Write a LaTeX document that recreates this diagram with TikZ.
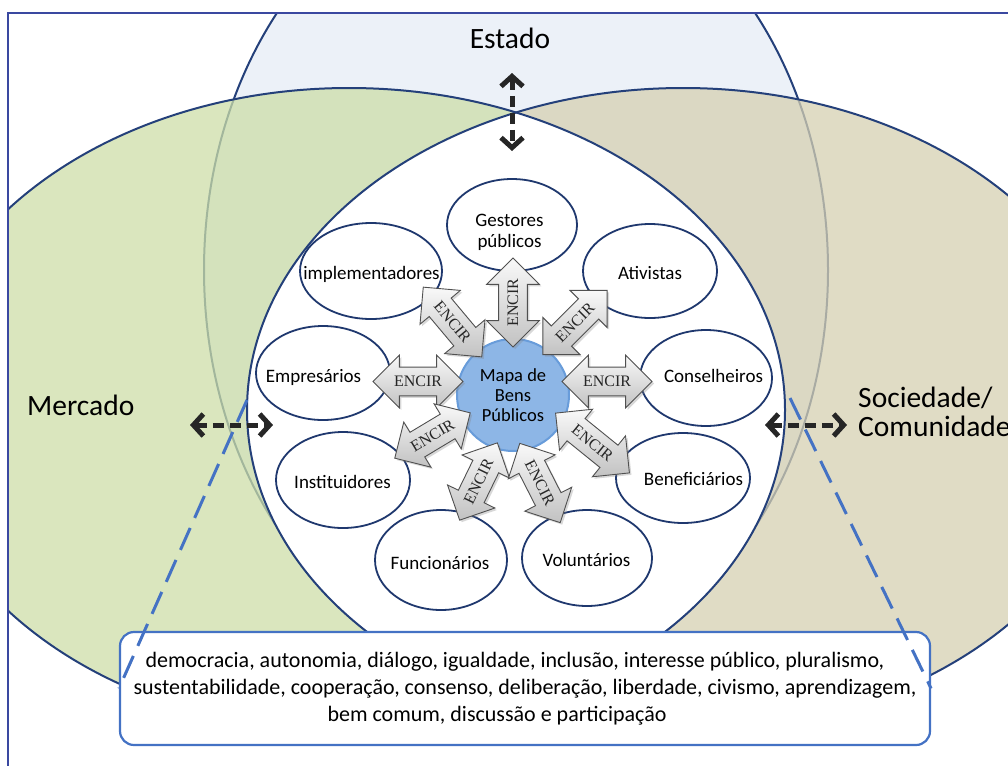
\documentclass[tikz,border=0pt]{standalone}
\usepackage{fontspec}
\setmainfont{Carlito}
\newfontfamily\encfont{Liberation Serif}
\usetikzlibrary{shapes.geometric,shapes.arrows,shadows,arrows.meta,calc}

\definecolor{estadofill}{RGB}{236,241,248}
\definecolor{mercfill}{RGB}{205,222,168}
\definecolor{socfill}{RGB}{214,208,178}
\definecolor{outl}{RGB}{36,64,122}
\definecolor{ellb}{RGB}{31,56,110}
\definecolor{mapafill}{RGB}{141,182,230}
\definecolor{mapadraw}{RGB}{104,156,218}
\definecolor{boxblue}{RGB}{68,114,196}
\definecolor{framec}{RGB}{58,72,160}
\definecolor{arrdark}{RGB}{38,38,38}
\definecolor{encdraw}{RGB}{80,80,80}

\tikzset{
  actor/.style={ellipse, draw=ellb, line width=1.8pt, fill=white, inner sep=0pt},
  actortxt/.style={inner sep=0pt, align=center, font=\fontsize{19}{21}\selectfont},
  encir/.style={double arrow, double arrow head extend=12pt, double arrow tip angle=90,
    draw=encdraw, line width=0.9pt, top color=gray!5, bottom color=gray!48,
    inner xsep=3pt, inner ysep=8.5pt, text=black!85,
    font=\encfont\fontsize{16}{16}\selectfont,
    drop shadow={opacity=0.3, shadow xshift=2pt, shadow yshift=-2pt}},
  bigtxt/.style={font=\fontsize{29.5}{30}\selectfont, inner sep=0pt},
  dasharr/.style={arrdark, line width=5pt, dash pattern=on 11pt off 6pt,
    {Straight Barb[length=10pt,width=22pt]}-{Straight Barb[length=10pt,width=22pt]}},
  bluedash/.style={boxblue, line width=3pt, dash pattern=on 24pt off 11pt},
  venn/.style={outl, line width=2pt}
}

\begin{document}
\begin{tikzpicture}[x=1pt,y=-1pt]
\useasboundingbox (0,0) rectangle (1008,766);

% ---- Venn background ----
\begin{scope}
  \clip (8,13) rectangle (1008,766);
  \filldraw[venn, fill=estadofill] (516,270) ellipse [x radius=312pt, y radius=400pt];
  \fill[mercfill, fill opacity=0.75] (349,410) ellipse [x radius=436pt, y radius=322pt];
  \fill[socfill, fill opacity=0.75] (683,410) ellipse [x radius=436pt, y radius=322pt];
  \begin{scope}
    \clip (349,410) ellipse [x radius=436pt, y radius=322pt];
    \fill[white] (683,410) ellipse [x radius=436pt, y radius=322pt];
  \end{scope}
  \draw[venn] (349,410) ellipse [x radius=436pt, y radius=322pt];
  \draw[venn] (683,410) ellipse [x radius=436pt, y radius=322pt];
\end{scope}

% ---- labels ----
\node[bigtxt] (estado) at (510,38) {Estado};
\node[bigtxt, anchor=west] (mercado) at (27,405) {Mercado};
\node[bigtxt, anchor=west, align=left, font=\fontsize{29.5}{29}\selectfont] (sociedade) at (858,412) {Sociedade/\\Comunidade};

% ---- actors ----
\node[actor, minimum width=130pt, minimum height=92pt]  (gest) at (512,225) {};
\node[actor, minimum width=142pt, minimum height=96pt]  (impl) at (371,271) {};
\node[actor, minimum width=134pt, minimum height=94pt]  (ativ) at (650,271) {};
\node[actor, minimum width=134pt, minimum height=94pt]  (empr) at (323,373) {};
\node[actor, minimum width=132pt, minimum height=96pt]  (cons) at (706,378) {};
\node[actor, minimum width=134pt, minimum height=96pt]  (inst) at (343,480) {};
\node[actor, minimum width=134pt, minimum height=90pt]  (bene) at (683,478) {};
\node[actor, minimum width=132pt, minimum height=100pt] (func) at (441,560) {};
\node[actor, minimum width=130pt, minimum height=96pt]  (volu) at (587,558) {};

\node[actortxt] (gest-t) at ($(gest)+(-2.5,7)$) {Gestores\\públicos};
\node[actortxt] (impl-t) at ($(impl)+(0.5,3)$) {implementadores};
\node[actortxt] (ativ-t) at ($(ativ)+(0,2)$) {Ativistas};
\node[actortxt] (empr-t) at ($(empr)+(-9.5,4)$) {Empresários};
\node[actortxt] (cons-t) at ($(cons)+(7.5,-2)$) {Conselheiros};
\node[actortxt] (inst-t) at ($(inst)+(-0.5,2)$) {Instituidores};
\node[actortxt] (bene-t) at ($(bene)+(10.5,1)$) {Beneficiários};
\node[actortxt] (func-t) at ($(func)+(-1,3)$) {Funcionários};
\node[actortxt] (volu-t) at ($(volu)+(-0.5,2)$) {Voluntários};

% ---- centre ----
\node[circle, fill=mapafill, draw=mapadraw, line width=2pt, minimum size=112pt, inner sep=0pt,
      align=center, font=\fontsize{18.5}{20}\selectfont] (mapa) at (513,395) {Mapa de\\Bens\\Públicos};

% ---- ENCIR arrows ----
\node[encir, minimum height=89pt, rotate=90]  (a1) at (513,302.5) {ENCIR};
\node[encir, minimum height=91pt, rotate=-50] (a2) at (452.5,322) {ENCIR};
\node[encir, minimum height=91pt, rotate=45]  (a3) at (575,322.5) {ENCIR};
\node[encir, minimum height=90pt, rotate=0]   (a4) at (418,381.5) {ENCIR};
\node[encir, minimum height=90pt, rotate=0]   (a5) at (607,381.5) {ENCIR};
\node[encir, minimum height=88pt, rotate=31]  (a6) at (432.5,435.5) {ENCIR};
\node[encir, minimum height=95pt, rotate=-39] (a7) at (592.5,443) {ENCIR};
\node[encir, minimum height=86pt, rotate=64]  (a8) at (478.5,481.5) {ENCIR};
\node[encir, minimum height=89pt, rotate=-63] (a9) at (540,483) {ENCIR};

% ---- dashed black arrows ----
\coordinate (eA) at (512,73);
\coordinate (eB) at (512,151);
\coordinate (mA) at (190,425);
\coordinate (mB) at (273,425);
\coordinate (sA) at (765,425);
\coordinate (sB) at (847,425);
\draw[dasharr] (eA) -- (eB);
\draw[dasharr] (mA) -- (mB);
\draw[dasharr] (sA) -- (sB);

% ---- values box ----
\node[draw=boxblue, line width=2.2pt, rounded corners=14pt, fill=white,
      minimum width=810pt, minimum height=113pt, inner sep=0pt, align=center,
      font=\fontsize{22}{27}\selectfont] (box) at (525,688.5)
  {\hspace*{-20pt}democracia, autonomia, diálogo, igualdade, inclusão, interesse público, pluralismo,\\
   sustentabilidade, cooperação, consenso, deliberação, liberdade, civismo, aprendizagem,\\
   bem comum, discussão e participação\hspace*{56pt}};

\coordinate (lA) at (247,400);
\coordinate (rA) at (790,398);
\draw[bluedash] (lA) -- (box.west);
\draw[bluedash] (rA) -- (box.east);

% ---- frame ----
\draw[framec, line width=1.5pt] (1008,13) -- (8,13) -- (8,766);
\end{tikzpicture}
\end{document}
